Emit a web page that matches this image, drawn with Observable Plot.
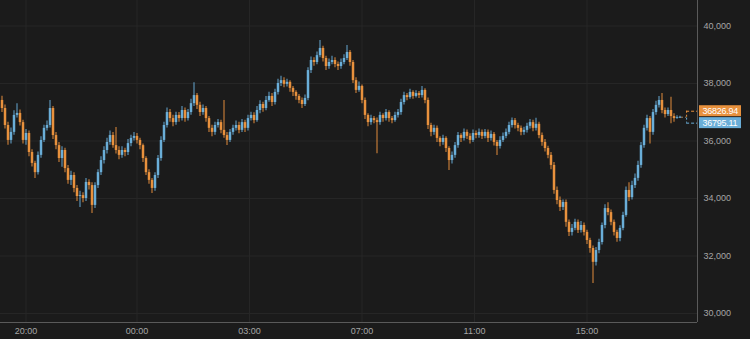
<!DOCTYPE html>
<html><head><meta charset="utf-8">
<script src="https://cdn.jsdelivr.net/npm/d3@7"></script>
<script src="https://cdn.jsdelivr.net/npm/@observablehq/plot@0.6"></script>
<style>
html,body{margin:0;padding:0;background:#1b1b1b;}
#chart{width:750px;height:339px;overflow:hidden;}
</style></head><body><div id="chart"></div>
<script>
const open = [
37410,37130,36540,36020,36300,36890,36960,36640,36020,36260,
35600,35220,34900,35500,36020,36440,36540,37130,36190,35840,
35390,35670,35040,34630,34800,34350,34070,34100,34000,34560,
34450,33760,34450,34900,35320,35670,35950,36190,35840,35670,
35500,35670,35600,35910,36090,36160,36020,35840,35390,34900,
34630,34350,34800,35390,36020,36540,36990,36780,36640,36890,
36780,37060,36780,36990,37300,37580,37240,36990,37130,36780,
36440,36300,36540,36640,36370,36190,36020,36300,36440,36540,
36370,36640,36440,36780,36890,36710,37060,37270,37130,37410,
37550,37340,37690,38000,38100,37970,38040,37830,37690,37550,
37410,37270,37480,38450,38800,38730,38970,39220,38870,38590,
38730,38800,38660,38590,38730,38870,39080,38730,38100,37760,
37900,37410,36890,36640,36780,36710,36640,36890,36780,36990,
36780,36710,36890,36990,37340,37580,37510,37690,37550,37650,
37580,37760,37410,36540,36300,36440,36090,35950,36090,35740,
35320,35500,35840,36190,36090,36300,36160,36020,36260,36190,
36300,36160,36300,36090,36230,35950,35810,36020,36160,36300,
36540,36710,36540,36440,36300,36370,36510,36640,36440,36580,
36190,35950,35740,35500,35150,34280,33930,33690,33860,33170,
32820,32960,33170,32890,33060,32820,32540,32260,31780,32190,
32470,33060,33650,33510,33170,32820,32610,32960,33410,34280,
34030,34450,34700,35150,35840,36440,36780,36300,36990,37240,
37410,37060,36920,37060,36850,36780,36795.11];
const high = [
37560,37250,36650,36450,37050,37300,37080,36720,36400,36350,
35700,35300,35620,36150,36550,36700,37410,37200,36300,35950,
35800,35750,35150,34950,34900,34450,34250,34200,34700,34650,
34550,34550,35000,35450,35800,36100,36350,36300,36470,35800,
35800,35750,36050,36200,36300,36260,36100,35900,35450,35000,
34700,34900,35500,36150,36650,37150,37100,36900,37000,36990,
37200,37150,37100,37450,38030,37650,37350,37250,37200,36850,
36550,36650,36750,36720,37410,36300,36400,36550,36700,36650,
36750,36720,36900,37000,36980,37200,37400,37350,37550,37700,
37650,37800,38150,38250,38200,38150,38100,37900,37750,37620,
37500,37600,38550,38920,38900,39100,39500,39300,38950,38850,
38950,38900,38750,38850,39000,39320,39150,38800,38200,38050,
37950,37500,36950,36900,36850,36800,37000,36950,37100,37050,
36850,37000,37100,37450,37700,37650,37800,37750,37750,37720,
37900,37820,37500,36620,36550,36520,36150,36200,36150,35800,
35620,35950,36300,36250,36420,36380,36250,36380,36350,36420,
36380,36400,36380,36350,36300,36020,36150,36280,36420,36650,
36800,36780,36620,36520,36480,36620,36750,36720,36790,36650,
36280,36050,35820,35600,35250,34400,34050,33950,33950,33250,
33100,33280,33250,33200,33150,32900,32620,32350,32300,32580,
33150,33780,33850,33600,33250,32900,33050,33520,34400,34550,
34600,34850,35300,35950,36550,36900,36850,37100,37380,37550,
37650,37150,37150,37520,36950,36880,36860];
const low = [
36990,36420,35850,35900,36200,36800,36520,35900,35850,35450,
35100,34700,34820,35400,35950,36350,36450,36050,35700,35250,
35090,34900,34500,34450,34200,33900,33690,33850,33900,34300,
33480,33650,34350,34800,35200,35550,35850,35750,35550,35350,
35400,35450,35500,35800,36000,35900,35700,35250,34800,34500,
34170,34250,34700,35300,35950,36450,36650,36500,36550,36650,
36700,36650,36700,36900,37200,37100,36850,36900,36650,36300,
36150,36200,36450,36250,36100,35840,35950,36200,36350,36250,
36300,36300,36350,36700,36600,36650,36950,37000,37050,37350,
37200,37250,37600,37900,37850,37880,37700,37550,37420,37300,
37130,37200,37400,38350,38600,38650,38900,38750,38450,38500,
38650,38550,38450,38500,38650,38800,38600,38000,37650,37700,
37300,36750,36500,36550,36600,35560,36550,36650,36700,36650,
36600,36650,36800,36900,37250,37400,37450,37450,37500,37480,
37500,37300,36400,36150,36200,35950,35800,35850,35600,34970,
35200,35400,35750,35950,36000,36050,35900,35950,36080,36100,
36050,36080,35950,36000,35830,35500,35720,35950,36080,36220,
36450,36420,36320,36180,36200,36280,36420,36320,36350,36080,
35820,35620,35380,35000,34150,33780,33550,33580,33000,32680,
32700,32880,32780,32800,32700,32400,32100,31040,31650,32080,
32380,32950,33400,33050,32700,32480,32500,32880,33350,33900,
33950,34350,34600,35050,35750,36350,35900,36200,36900,37150,
36950,36800,36850,36600,36650,36760,36780];
const close = [
37130,36540,36020,36300,36890,36960,36640,36020,36260,35600,
35220,34900,35500,36020,36440,36540,37130,36190,35840,35390,
35670,35040,34630,34800,34350,34070,34100,34000,34560,34450,
33760,34450,34900,35320,35670,35950,36190,35840,35670,35500,
35670,35600,35910,36090,36160,36020,35840,35390,34900,34630,
34350,34800,35390,36020,36540,36990,36780,36640,36890,36780,
37060,36780,36990,37300,37580,37240,36990,37130,36780,36440,
36300,36540,36640,36370,36190,36020,36300,36440,36540,36370,
36640,36440,36780,36890,36710,37060,37270,37130,37410,37550,
37340,37690,38000,38100,37970,38040,37830,37690,37550,37410,
37270,37480,38450,38800,38730,38970,39220,38870,38590,38730,
38800,38660,38590,38730,38870,39080,38730,38100,37760,37900,
37410,36890,36640,36780,36710,36640,36890,36780,36990,36780,
36710,36890,36990,37340,37580,37510,37690,37550,37650,37580,
37760,37410,36540,36300,36440,36090,35950,36090,35740,35320,
35500,35840,36190,36090,36300,36160,36020,36260,36190,36300,
36160,36300,36090,36230,35950,35810,36020,36160,36300,36540,
36710,36540,36440,36300,36370,36510,36640,36440,36580,36190,
35950,35740,35500,35150,34280,33930,33690,33860,33170,32820,
32960,33170,32890,33060,32820,32540,32260,31780,32190,32470,
33060,33650,33510,33170,32820,32610,32960,33410,34280,34030,
34450,34700,35150,35840,36440,36780,36300,36990,37240,37410,
37060,36920,37060,36850,36780,36810,36826.94];

const timeTicks = [8, 45, 82.5, 120, 157.5, 195];
const timeLabels = ["20:00", "00:00", "03:00", "07:00", "11:00", "15:00"];
const priceTicks = [30000, 32000, 34000, 36000, 38000, 40000];
const lastPrice = 36826.94;
const secondPrice = 36795.11;

const BLUE = "#6aaed8", ORANGE = "#e8913d";
const FONT = "'Liberation Sans', Arial, sans-serif";
const n = close.length;
if (open.length !== n || high.length !== n || low.length !== n) throw new Error("length mismatch " + [open.length, high.length, low.length, n]);
const candles = close.map((c, i) => ({i, o: open[i], h: high[i], l: low[i], c}));
const up = candles.filter(d => d.c >= d.o);
const down = candles.filter(d => d.c < d.o);
const lastI = n - 1;

const chart = Plot.plot({
  width: 750, height: 339,
  marginLeft: 0, marginRight: 53, marginTop: 0, marginBottom: 17,
  style: {background: "#1b1b1b", color: "#a6a6a6", fontFamily: FONT, fontSize: "9px", overflow: "visible"},
  x: {domain: [-0.5, 231.8333], axis: null},
  y: {domain: [29687, 40887], axis: null},
  marks: [
    Plot.gridX(timeTicks, {stroke: "#262626", strokeOpacity: 1}),
    Plot.gridY(priceTicks, {stroke: "#262626", strokeOpacity: 1}),
    Plot.ruleX(up, {x: "i", y1: "l", y2: "h", stroke: BLUE, strokeOpacity: 0.65, strokeWidth: 1.5}),
    Plot.ruleX(down, {x: "i", y1: "l", y2: "h", stroke: ORANGE, strokeOpacity: 0.65, strokeWidth: 1.5}),
    Plot.ruleX(up, {x: "i", y1: "o", y2: "c", stroke: BLUE, strokeWidth: 2.5}),
    Plot.ruleX(down, {x: "i", y1: "o", y2: "c", stroke: ORANGE, strokeWidth: 2.5}),
    Plot.ruleY([lastPrice], {x1: lastI + 0.5, x2: lastI + 2.2, stroke: "#9a8060", strokeDasharray: "2,2"}),
    Plot.ruleX([lastI + 2.2], {y1: lastPrice, y2: lastPrice, insetTop: -6, stroke: ORANGE, strokeDasharray: "2,2"}),
    Plot.ruleX([lastI + 2.2], {y1: secondPrice, y2: secondPrice, insetBottom: -5, stroke: BLUE, strokeDasharray: "2,2"}),
    Plot.ruleY([lastPrice], {x1: lastI + 2.2, x2: 231.8333, dy: -6, stroke: ORANGE, strokeDasharray: "3,2"}),
    Plot.ruleY([secondPrice], {x1: lastI + 2.2, x2: 231.8333, dy: 5, stroke: BLUE, strokeDasharray: "3,2"}),
    Plot.ruleX([231.8333], {stroke: "#5a5a5a"}),
    Plot.ruleY([29687], {stroke: "#5a5a5a"}),
    Plot.rect([lastPrice], {x1: lastI, x2: lastI, y1: d => d, y2: d => d, dx: 19.5, dy: -6, insetRight: -42, insetTop: -5.5, insetBottom: -5.5, fill: ORANGE}),
    Plot.rect([secondPrice], {x1: lastI, x2: lastI, y1: d => d, y2: d => d, dx: 19.5, dy: 5, insetRight: -42, insetTop: -5.5, insetBottom: -5.5, fill: BLUE}),
    Plot.text([lastPrice], {x: lastI, y: d => d, text: d => d.toFixed(2), dx: 22.5, dy: -6, textAnchor: "start", fill: "#ffffff", fontSize: 9}),
    Plot.text([secondPrice], {x: lastI, y: d => d, text: d => d.toFixed(2), dx: 22.5, dy: 5, textAnchor: "start", fill: "#ffffff", fontSize: 9}),
    Plot.axisY(priceTicks, {anchor: "right", label: null, tickSize: 0, tickPadding: 6, tickFormat: d3.format(","), fill: "#a6a6a6"}),
    Plot.axisX(timeTicks, {anchor: "bottom", label: null, tickSize: 0, tickPadding: 5, tickFormat: d => timeLabels[timeTicks.indexOf(d)], fill: "#a6a6a6"})
  ]
});
chart.querySelectorAll("text").forEach(t => {
  if (/^\d+\.\d\d$/.test(t.textContent)) t.setAttribute("letter-spacing", "-0.25");
});
document.getElementById("chart").appendChild(chart);
</script>
</body></html>
